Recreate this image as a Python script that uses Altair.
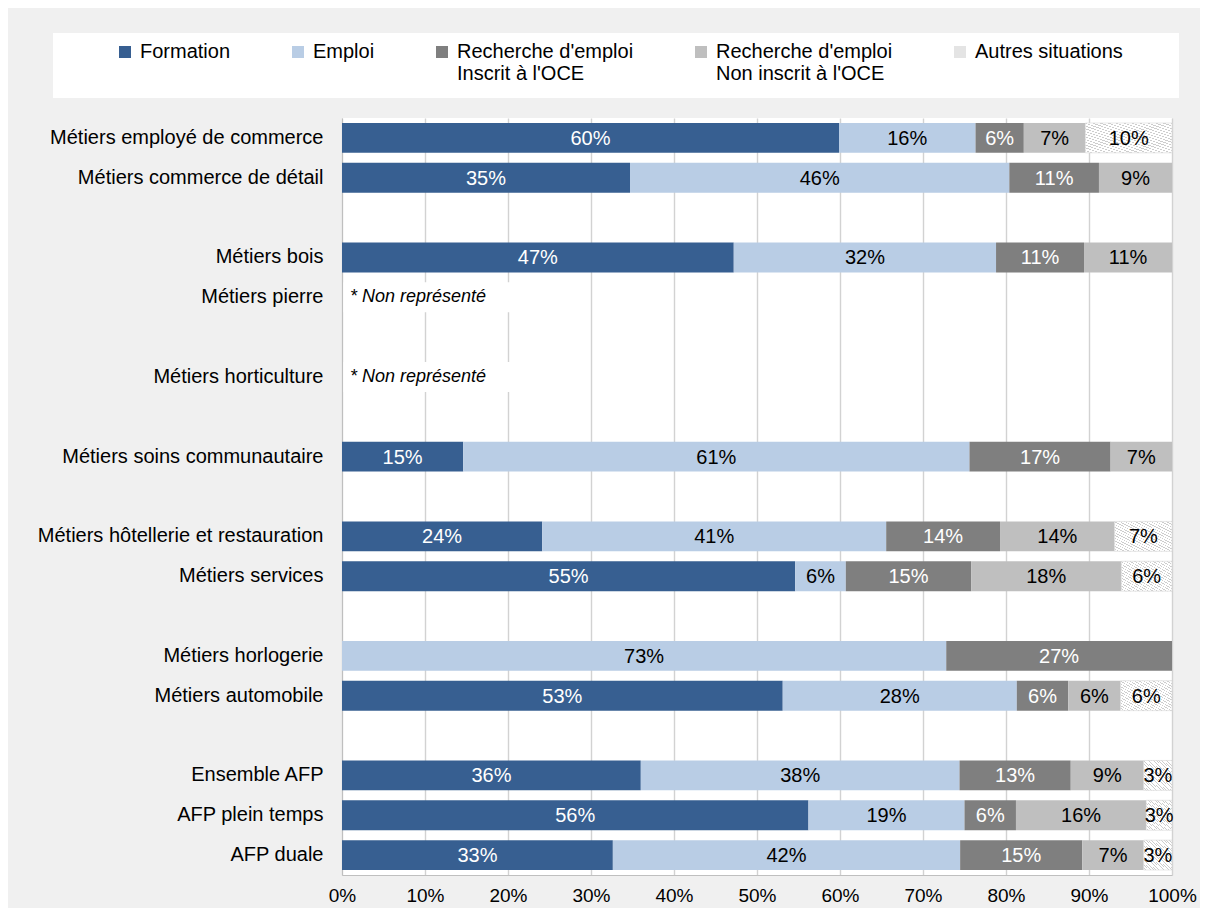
import altair as alt
import pandas as pd

FONT = "Liberation Sans, Arial, sans-serif"

# ---- data -------------------------------------------------------------
categories = [
    "Métiers employé de commerce",
    "Métiers commerce de détail",
    "Métiers bois",
    "Métiers pierre",
    "Métiers horticulture",
    "Métiers soins communautaire",
    "Métiers hôtellerie et restauration",
    "Métiers services",
    "Métiers horlogerie",
    "Métiers automobile",
    "Ensemble AFP",
    "AFP plein temps",
    "AFP duale",
]
formation = [59.7, 34.7, 47.2, None, None, 14.6, 24.1, 54.6, 0, 53.1, 36.0, 56.2, 32.6]
emploi = [16.4, 45.7, 31.6, None, None, 61.0, 41.4, 6.1, 72.8, 28.2, 38.4, 18.8, 41.8]
recherche_inscrit = [5.8, 10.8, 10.6, None, None, 17.0, 13.7, 15.1, 27.2, 6.2, 13.4, 6.2, 14.7]
recherche_non_inscrit = [7.4, 8.8, 10.6, None, None, 7.4, 13.8, 18.1, 0, 6.3, 8.8, 15.7, 7.4]
autres = [10.4, 0, 0, None, None, 0, 6.9, 6.1, 0, 6.2, 3.4, 3.1, 3.4]

series = [
    "Formation| ",
    "Emploi| ",
    "Recherche d'emploi|Inscrit à l'OCE",
    "Recherche d'emploi|Non inscrit à l'OCE",
    "Autres situations| ",
]
series_colors = ["#375f91", "#b9cde5", "#7f7f7f", "#bfbfbf", "#e4e4e4"]

not_represented = ["Métiers pierre", "Métiers horticulture"]
note_text = "* Non représenté"

# row order on the y axis, with empty spacer rows
row_order = [
    categories[0], categories[1], " ",
    categories[2], categories[3], "  ",
    categories[4], "   ",
    categories[5], "    ",
    categories[6], categories[7], "     ",
    categories[8], categories[9], "      ",
    categories[10], categories[11], categories[12],
]

records = []
for s_idx, vals in enumerate([formation, emploi, recherche_inscrit,
                              recherche_non_inscrit, autres]):
    for cat, v in zip(categories, vals):
        if v:
            records.append({"row": cat, "series": series[s_idx],
                            "idx": s_idx, "value": v})
df = pd.DataFrame(records)
notes_df = pd.DataFrame({"row": not_represented,
                         "note": [note_text] * len(not_represented)})

FS = 20

# ---- shared encodings -------------------------------------------------
Y = alt.Y(
    "row:N",
    scale=alt.Scale(domain=row_order, paddingInner=0.25, paddingOuter=0.125),
    axis=alt.Axis(title=None, ticks=False, tickSize=0, labelPadding=19,
                  labelLimit=500, domainColor="#bfbfbf", labelFontSize=FS,
                  labelFont=FONT, labelColor="black"),
)
xscale = alt.Scale(domain=[0, 1], nice=False)
xaxis = alt.Axis(title=None, values=[i / 10 for i in range(11)], format=".0%",
                 ticks=False, tickSize=0, labelPadding=11, labelFlush=False,
                 grid=True, gridColor="#d2d2d2", gridWidth=1.4,
                 domainColor="#bfbfbf",
                 labelFontSize=19, labelFont=FONT, labelColor="black")

base = alt.Chart(df).transform_stack(
    stack="value", groupby=["row"],
    sort=[alt.SortField("idx", order="ascending")],
    as_=["x0", "x1"], offset="normalize",
)

bars = base.mark_bar().encode(
    y=Y,
    x=alt.X("x0:Q", scale=xscale, axis=xaxis),
    x2="x1:Q",
    color=alt.Color(
        "series:N",
        scale=alt.Scale(domain=series, range=series_colors),
        legend=alt.Legend(
            title=None, orient="none", legendX=-227, legendY=-76,
            direction="horizontal", symbolType="square", symbolSize=144,
            symbolStrokeWidth=0, labelFont=FONT, labelFontSize=FS,
            labelColor="black", labelLimit=400, labelOffset=5,
            columnPadding=57, padding=0,
            labelExpr="split(datum.label, '|')",
        ),
    ),
)

# hatched look for "Autres situations"
stops = []
n_cyc = 22
for k in range(n_cyc):
    a = k / n_cyc
    b = (k + 0.72) / n_cyc
    c = (k + 1) / n_cyc
    stops += [alt.GradientStop(offset=a, color="#ffffff"),
              alt.GradientStop(offset=b, color="#ffffff"),
              alt.GradientStop(offset=b, color="#cdcdcd"),
              alt.GradientStop(offset=c, color="#cdcdcd")]
hatch_fill = alt.LinearGradient(gradient="linear", stops=stops,
                                x1=0, y1=1, x2=1, y2=0)
hatch = base.transform_filter("datum.idx == 4").mark_bar(
    fill=hatch_fill, stroke="#dadada", strokeWidth=0.6
).encode(y=Y, x="x0:Q", x2="x1:Q")

labels = base.transform_calculate(
    mid="(datum.x0 + datum.x1) / 2",
    lab="format(datum.value, '.0f') + '%'",
).mark_text(font=FONT, fontSize=FS, baseline="middle", dy=1).encode(
    y=Y,
    x="mid:Q",
    text="lab:N",
    color=alt.condition("datum.idx == 0 || datum.idx == 2",
                        alt.value("white"), alt.value("black")),
)

mask = alt.Chart(notes_df).mark_bar(color="white").encode(
    y=Y, x=alt.value(1.5), x2=alt.value(192)
)
notes = alt.Chart(notes_df).mark_text(
    align="left", baseline="middle", font=FONT, fontSize=18,
    fontStyle="italic", color="black"
).encode(y=Y, x=alt.value(8), text="note:N")

legend_box = alt.Chart(pd.DataFrame({"k": [0]})).mark_rect(color="white").encode(
    x=alt.value(-289), x2=alt.value(837), y=alt.value(-85), y2=alt.value(-20)
)

chart = alt.layer(legend_box, bars, hatch, labels, mask, notes).properties(
    width=830, height=757,
    padding={"left": 334, "top": 110, "right": 28, "bottom": 33},
    autosize=alt.AutoSizeParams(type="none"),
).configure(
    background="#f0f0f0", font=FONT
).configure_view(
    fill="white", strokeWidth=0
)

chart.save("out.html", embed_options={"renderer": "svg", "actions": False})
